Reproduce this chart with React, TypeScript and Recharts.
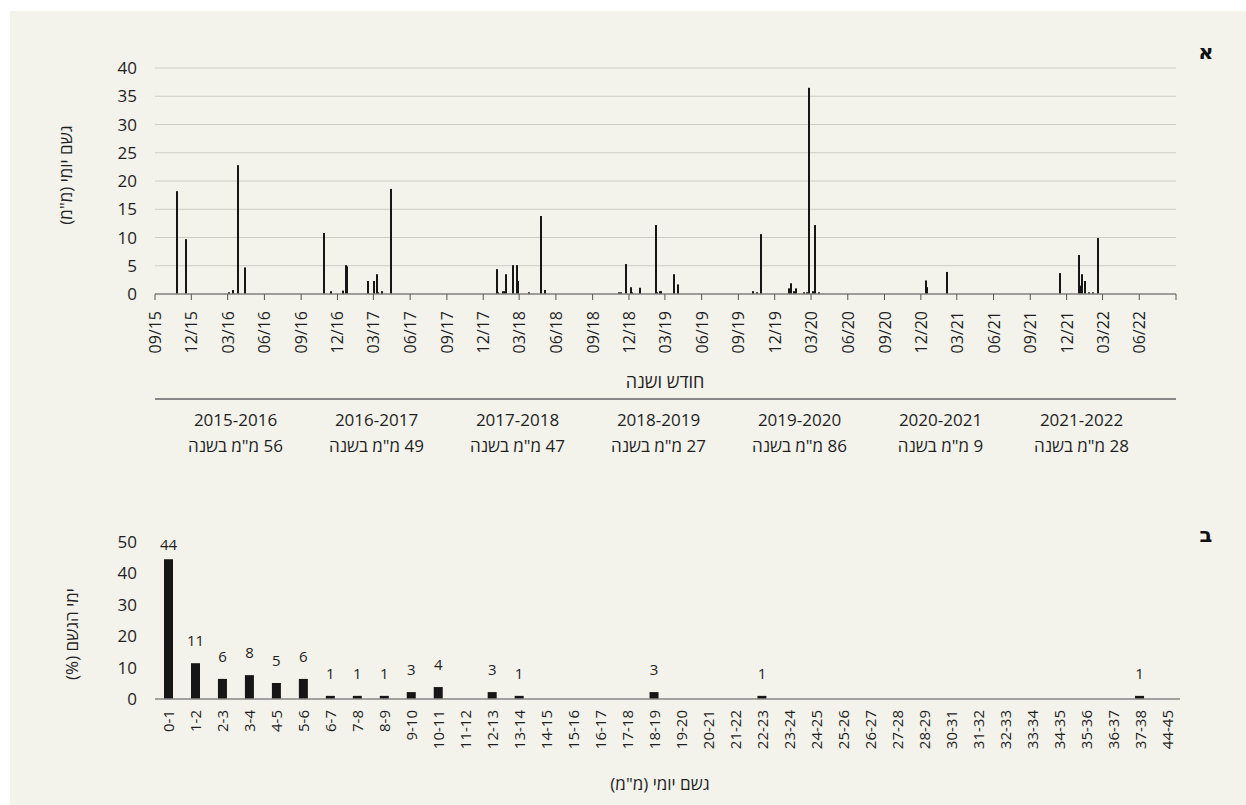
import React from 'react';
import { BarChart, Bar, XAxis, YAxis, CartesianGrid, LabelList } from 'recharts';

const FONT = '"Open Sans", "DejaVu Sans", sans-serif';
const INK = '#1f1f1f';
const BAR = '#161616';
const AXIS = '#878787';

// panel א : daily rain, date + mm
const rainDates = [
    '2015-10-26', '2015-11-18', '2016-03-04', '2016-03-14', '2016-03-27', '2016-04-13',
    '2016-10-28', '2016-11-16', '2016-12-16', '2016-12-23', '2016-12-26', '2017-02-16', '2017-03-02', '2017-03-09', '2017-03-12', '2017-03-22', '2017-04-14',
    '2018-01-05', '2018-01-08', '2018-01-20', '2018-01-25', '2018-01-28', '2018-02-14', '2018-02-23', '2018-02-27', '2018-03-27', '2018-04-24', '2018-04-26', '2018-05-06',
    '2018-11-06', '2018-11-11', '2018-11-24', '2018-12-06', '2018-12-09', '2018-12-29', '2019-02-08', '2019-02-10', '2019-02-17', '2019-02-19', '2019-03-25', '2019-04-04',
    '2019-10-07', '2019-10-17', '2019-10-27', '2020-01-06', '2020-01-11', '2020-01-18', '2020-01-23', '2020-02-12', '2020-02-19', '2020-02-24', '2020-03-05', '2020-03-12', '2020-03-20',
    '2020-12-14', '2020-12-16', '2021-02-05',
    '2021-11-14', '2022-01-01', '2022-01-03', '2022-01-09', '2022-01-16', '2022-01-26', '2022-02-05', '2022-02-19',
];
const rainMm = [
    18.2, 9.7, 0.3, 0.7, 22.8, 4.7,
    10.8, 0.5, 0.6, 5.1, 4.9, 2.3, 2.3, 3.5, 0.3, 0.5, 18.6,
    4.4, 0.3, 0.5, 0.5, 3.5, 5.1, 5.1, 2.3, 0.3, 10.2, 13.8, 0.7,
    0.3, 0.3, 5.3, 1.2, 0.3, 1.1, 12.2, 0.3, 0.5, 0.5, 3.5, 1.7,
    0.5, 0.3, 10.6, 1.0, 1.9, 0.5, 1.0, 0.3, 0.3, 36.5, 0.5, 12.2, 0.3,
    2.4, 1.2, 3.9,
    3.7, 6.9, 1.5, 3.5, 2.3, 0.3, 0.3, 9.9,
];
const quarterLabels = [
    '09/15', '12/15', '03/16', '06/16', '09/16', '12/16', '03/17', '06/17', '09/17', '12/17',
    '03/18', '06/18', '09/18', '12/18', '03/19', '06/19', '09/19', '12/19', '03/20', '06/20',
    '09/20', '12/20', '03/21', '06/21', '09/21', '12/21', '03/22', '06/22',
];
const axisEndLabel = '09/22';
const rainTicks = [0, 5, 10, 15, 20, 25, 30, 35, 40];

const seasons = ['2015-2016', '2016-2017', '2017-2018', '2018-2019', '2019-2020', '2020-2021', '2021-2022'];
const seasonTotals = [56, 49, 47, 27, 86, 9, 28];

// panel ב : share of rain days by daily amount
const bins = [
    '0-1', '1-2', '2-3', '3-4', '4-5', '5-6', '6-7', '7-8', '8-9', '9-10', '10-11', '11-12', '12-13', '13-14',
    '14-15', '15-16', '16-17', '17-18', '18-19', '19-20', '20-21', '21-22', '22-23', '23-24', '24-25', '25-26',
    '26-27', '27-28', '28-29', '30-31', '31-32', '32-33', '33-34', '34-35', '35-36', '36-37', '37-38', '44-45',
];
const binPct = [
    44.5, 11.4, 6.4, 7.6, 5.1, 6.4, 1.0, 1.0, 1.0, 2.2, 3.8, 0, 2.2, 1.0,
    0, 0, 0, 0, 2.2, 0, 0, 0, 1.0, 0, 0, 0,
    0, 0, 0, 0, 0, 0, 0, 0, 0, 0, 1.0, 0,
];
const binLabels = [
    '44', '11', '6', '8', '5', '6', '1', '1', '1', '3', '4', '', '3', '1',
    '', '', '', '', '3', '', '', '', '1', '', '', '',
    '', '', '', '', '', '', '', '', '', '', '1', '',
];
const pctTicks = [0, 10, 20, 30, 40, 50];

const DAY = 86400000;
const start = Date.UTC(2015, 8, 1);
const isoToDay = (iso: string) => (Date.parse(iso + 'T00:00:00Z') - start) / DAY;
const mmyyToDay = (l: string) => {
    const [m, y] = l.split('/');
    return (Date.UTC(2000 + Number(y), Number(m) - 1, 1) - start) / DAY;
};

const rainData = rainDates.map((d, i) => ({ t: isoToDay(d), mm: rainMm[i] }));
const endDay = mmyyToDay(axisEndLabel);
const quarterTicks = [...quarterLabels.map(mmyyToDay), endDay];
const quarterName = new Map(quarterLabels.map((l) => [mmyyToDay(l), l]));

const histData = bins.map((b, i) => ({ bin: b, pct: binPct[i], label: binLabels[i] }));

function RotatedTick(props: any) {
    const { x, y, text, size } = props;
    return (
        <text
            x={x}
            y={y}
            transform={`rotate(-90 ${x} ${y})`}
            textAnchor="end"
            dominantBaseline="central"
            fill={INK}
            fontSize={size}
            fontFamily={FONT}
        >
            {text}
        </text>
    );
}

// thin daily bar snapped to whole pixels so it stays crisp
function Spike(props: any) {
    const { x, y, width, height } = props;
    if (!height) return null;
    const cx = Math.round(Number(x) + Number(width) / 2);
    return <rect x={cx - 1} y={y} width={2} height={height} fill={BAR} />;
}

function ValueLabel(props: any) {
    const { x, y, width, value } = props;
    if (!value) return null;
    const baseline = Math.max(Number(y) - 17, 30);
    return (
        <text x={Number(x) + Number(width) / 2} y={baseline} textAnchor="middle" fill={INK} fontSize={15} fontFamily={FONT}>
            {value}
        </text>
    );
}

const abs = (left: number, top: number): React.CSSProperties => ({ position: 'absolute', left, top });

const centered = (cx: number, cy: number, size: number, rotate = false): React.CSSProperties => ({
    position: 'absolute',
    left: cx,
    top: cy,
    transform: `translate(-50%, -50%)${rotate ? ' rotate(-90deg)' : ''}`,
    whiteSpace: 'nowrap',
    direction: 'rtl',
    fontSize: size,
    color: INK,
    lineHeight: 1,
});

export default function App() {
    const yTick = { fill: INK, fontSize: 17, fontFamily: FONT };

    return (
        <div style={{ position: 'absolute', left: 0, top: 0, width: 1246, height: 805, background: '#fff', overflow: 'hidden', fontFamily: FONT }}>
            <div style={{ position: 'absolute', left: 10, top: 11, width: 1236, height: 794, background: '#f3f2eb' }} />

            {/* א */}
            <div style={{ ...centered(1206, 52, 21), fontWeight: 700, fontFamily: '"DejaVu Sans", sans-serif', color: '#111' }}>א</div>
            <div style={centered(65, 175, 17, true)}>גשם יומי (מ"מ)</div>

            <div style={abs(0, 50)}>
                <BarChart width={1200} height={314} data={rainData} margin={{ top: 18, right: 24, bottom: 0, left: 95 }}>
                    <CartesianGrid vertical={false} stroke="#cdcdc6" />
                    <XAxis
                        type="number"
                        dataKey="t"
                        domain={[0, endDay]}
                        ticks={quarterTicks}
                        interval={0}
                        height={70}
                        axisLine={{ stroke: AXIS, strokeWidth: 1.5 }}
                        tickLine={{ stroke: '#555' }}
                        tickSize={6}
                        tickMargin={11}
                        tick={(p: any) => <RotatedTick x={p.x} y={p.y} size={16} text={quarterName.get(p.payload.value) ?? ''} />}
                    />
                    <YAxis
                        width={60}
                        domain={[0, 40]}
                        ticks={rainTicks}
                        interval={0}
                        axisLine={false}
                        tickLine={false}
                        tickSize={6}
                        tickMargin={12}
                        tick={yTick}
                    />
                    <Bar dataKey="mm" fill={BAR} barSize={2} shape={Spike} isAnimationActive={false} />
                </BarChart>
            </div>

            <div style={centered(665, 381, 18)}>חודש ושנה</div>
            <div style={{ position: 'absolute', left: 155, top: 398, width: 1021, height: 1.5, background: AXIS }} />
            <div style={{ position: 'absolute', left: 165, top: 407, display: 'flex', direction: 'ltr' }}>
                {seasons.map((s, i) => (
                    <div key={s} style={{ width: 141, textAlign: 'center', fontSize: 17, lineHeight: '26px', color: INK }}>
                        <div>{s}</div>
                        <div dir="rtl">{`${seasonTotals[i]} מ"מ בשנה`}</div>
                    </div>
                ))}
            </div>

            {/* ב */}
            <div style={{ ...centered(1206, 535, 21), fontWeight: 700, fontFamily: '"DejaVu Sans", sans-serif', color: '#111' }}>ב</div>
            <div style={centered(71, 634, 17, true)}>ימי הגשם (%)</div>

            <div style={abs(0, 520)}>
                <BarChart width={1200} height={239} data={histData} margin={{ top: 22, right: 20, bottom: 0, left: 95 }}>
                    <XAxis
                        dataKey="bin"
                        interval={0}
                        height={60}
                        axisLine={{ stroke: AXIS, strokeWidth: 1.5 }}
                        tickLine={false}
                        tickSize={6}
                        tickMargin={5}
                        tick={(p: any) => <RotatedTick x={p.x} y={p.y} size={15} text={p.payload.value} />}
                    />
                    <YAxis
                        width={60}
                        domain={[0, 50]}
                        ticks={pctTicks}
                        interval={0}
                        axisLine={false}
                        tickLine={false}
                        tickSize={6}
                        tickMargin={12}
                        tick={yTick}
                    />
                    <Bar dataKey="pct" fill={BAR} barSize={9} isAnimationActive={false}>
                        <LabelList dataKey="label" content={ValueLabel} />
                    </Bar>
                </BarChart>
            </div>

            <div style={centered(660, 783, 17)}>גשם יומי (מ"מ)</div>
        </div>
    );
}
